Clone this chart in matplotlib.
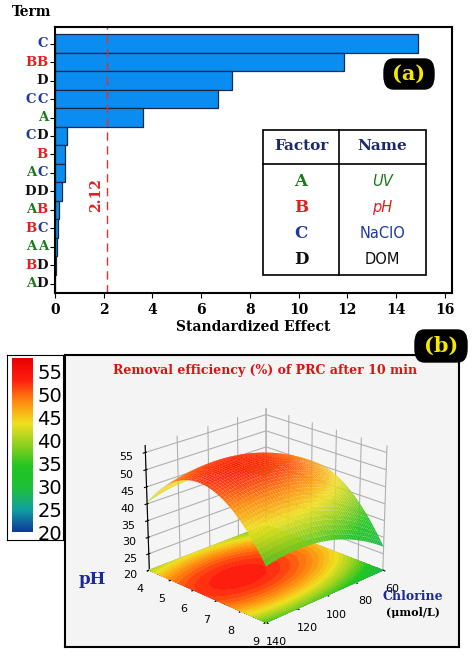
import numpy as np
import matplotlib
matplotlib.use("Agg")
import matplotlib.pyplot as plt
from matplotlib.colors import LinearSegmentedColormap
from matplotlib.patches import FancyBboxPatch, Rectangle

terms = ["C", "BB", "D", "CC", "A", "CD", "B", "AC", "DD", "AB", "BC", "AA", "BD", "AD"]
effects = [14.9, 11.85, 7.25, 6.7, 3.6, 0.48, 0.42, 0.42, 0.3, 0.17, 0.12, 0.07, 0.03, 0.02]
threshold = 2.12
factors = ["A", "B", "C", "D"]
names = ["UV", "pH", "NaClO", "DOM"]
xticks = [0, 2, 4, 6, 8, 10, 12, 14, 16]
# quadratic model coefficients for response surface (efficiency vs chlorine, pH)
cl_range = [60, 140]
ph_range = [4, 9]
coef = dict(b0=53.0, bcl=0.085, bph=-1.3, bcl2=-0.0028, bph2=-2.2, bclph=0.01)
cbar_ticks = [20, 25, 30, 35, 40, 45, 50, 55]

fcol = {"A": "#1b7a1b", "B": "#e02020", "C": "#1f3a9a", "D": "#111111"}
serif = "DejaVu Serif"

fig = plt.figure(figsize=(4.74, 6.55), dpi=100)
W, H = 474, 655
def fr(x0, y0, x1, y1):
    return [x0 / W, 1 - y1 / H, (x1 - x0) / W, (y1 - y0) / H]

ax = fig.add_axes(fr(55, 27, 452, 293))
n = len(terms)
ypos = np.arange(n)
ax.barh(ypos, effects, height=1.0, color="#0a8cf0", edgecolor="#1a2a40", linewidth=0.9)
ax.set_ylim(n - 0.5, -0.9)
ax.set_xlim(0, 16.3)
ax.set_xticks(xticks)
ax.set_xticklabels([str(t) for t in xticks], fontfamily=serif, fontweight="bold", fontsize=10)
ax.set_yticks(ypos)
ax.set_yticklabels([""] * n)
ax.axvline(threshold, color="#e03030", ls=(0, (6, 4)), lw=1)
ax.text(threshold - 0.45, 8.2, "2.12", rotation=90, color="#e02020", fontfamily=serif,
        fontweight="bold", fontsize=10, ha="center", va="center")
ax.set_xlabel("Standardized Effect", fontfamily=serif, fontweight="bold", fontsize=10, labelpad=2)
for s in ax.spines.values():
    s.set_linewidth(1.5)
for i, t in enumerate(terms):
    off = -5
    for ch in reversed(t):
        ax.annotate(ch, xy=(0, i), xycoords=("axes fraction", "data"), xytext=(off, 0),
                    textcoords="offset points", ha="right", va="center", color=fcol[ch],
                    fontfamily=serif, fontweight="bold", fontsize=9.5)
        off -= 8.5
fig.text(12 / W, 1 - 12 / H, "Term", fontfamily=serif, fontweight="bold", fontsize=10, va="center")

# (a) badge
fig.patches.append(FancyBboxPatch((384 / W, 1 - 89 / H), 50 / W, 30 / H, boxstyle="round,pad=0,rounding_size=0.02",
                                  transform=fig.transFigure, facecolor="black", edgecolor="black"))
fig.text(409 / W, 1 - 74 / H, "(a)", color="#f5e800", fontfamily=serif, fontweight="bold",
         fontsize=15, ha="center", va="center")

# factor table
tx0, tx1, tmid = 263 / W, 426 / W, 339 / W
ty0, ty1, tyh = 1 - 130 / H, 1 - 275 / H, 1 - 164 / H
fig.patches.append(Rectangle((tx0, ty1), tx1 - tx0, ty0 - ty1, transform=fig.transFigure,
                             facecolor="white", edgecolor="black", lw=1.2))
fig.lines.append(plt.Line2D([tmid, tmid], [ty1, ty0], transform=fig.transFigure, color="black", lw=1.2))
fig.lines.append(plt.Line2D([tx0, tx1], [tyh, tyh], transform=fig.transFigure, color="black", lw=1.2))
fig.text((tx0 + tmid) / 2, 1 - 146 / H, "Factor", color="#1a2a6a", fontfamily=serif, fontweight="bold", fontsize=11, ha="center", va="center")
fig.text((tmid + tx1) / 2, 1 - 146 / H, "Name", color="#1a2a6a", fontfamily=serif, fontweight="bold", fontsize=11, ha="center", va="center")
for k, (f, nm) in enumerate(zip(factors, names)):
    yy = 1 - (182 + k * 26) / H
    fig.text((tx0 + tmid) / 2, yy, f, color=fcol[f], fontfamily=serif, fontweight="bold", fontsize=12, ha="center", va="center")
    fig.text((tmid + tx1) / 2, yy, nm, color=fcol[f], fontsize=10.5, ha="center", va="center",
             style="italic" if nm in ("UV", "pH") else "normal")

# ---- panel (b)
frame = fig.add_axes(fr(65, 355, 459, 647))
frame.set_facecolor("#f4f4f4")
frame.set_xticks([]); frame.set_yticks([])
for s in frame.spines.values():
    s.set_linewidth(1.5)
frame.set_zorder(0)

cmap = LinearSegmentedColormap.from_list("rs", ["#1038a0", "#11a0a0", "#1fbf3a", "#22c522", "#8ed020",
                                                "#f0e020", "#ff8c10", "#ff2010", "#e80000"])
cl = np.linspace(cl_range[0], cl_range[1], 50)
ph = np.linspace(ph_range[0], ph_range[1], 50)
CL, PH = np.meshgrid(cl, ph)
c = coef
Z = (c["b0"] + c["bcl"] * (CL - 100) + c["bph"] * (PH - 6.5) + c["bcl2"] * (CL - 100) ** 2
     + c["bph2"] * (PH - 6.5) ** 2 + c["bclph"] * (CL - 100) * (PH - 6.5))

ax3 = fig.add_axes(fr(70, 380, 455, 645), projection="3d")
ax3.set_zorder(1)
ax3.patch.set_alpha(0)
ax3.plot_surface(CL, PH, Z, cmap=cmap, vmin=20, vmax=58, linewidth=0, antialiased=True, shade=True)
ax3.contourf(CL, PH, Z, zdir="z", offset=20, levels=30, cmap=cmap, vmin=20, vmax=58)
ax3.set_zlim(20, 57)
ax3.set_xlim(60, 140)
ax3.set_ylim(4, 9)
ax3.view_init(elev=22, azim=45)
ax3.set_xticks([60, 80, 100, 120, 140])
ax3.set_yticks([4, 5, 6, 7, 8, 9])
ax3.set_zticks([20, 25, 30, 35, 40, 45, 50, 55])
ax3.tick_params(labelsize=8, pad=0)
for a in (ax3.xaxis, ax3.yaxis, ax3.zaxis):
    a.set_pane_color((0.96, 0.96, 0.96, 1))
ax3.set_box_aspect((1, 1, 0.8))
fig.text(265 / W, 1 - 370 / H, "Removal efficiency (%) of PRC after 10 min", color="#e01010",
         fontfamily=serif, fontweight="bold", fontsize=9, ha="center", va="center", zorder=5)
fig.text(92 / W, 1 - 579 / H, "pH", color="#1a2a9a", fontfamily=serif, fontweight="bold", fontsize=12, ha="center", va="center", zorder=5)
fig.text(413 / W, 1 - 597 / H, "Chlorine", color="#1a2a9a", fontfamily=serif, fontweight="bold", fontsize=9, ha="center", va="center", zorder=5)
fig.text(413 / W, 1 - 612 / H, "(μmol/L)", color="black", fontfamily=serif, fontweight="bold", fontsize=8, ha="center", va="center", zorder=5)

# colorbar
cbg = fig.add_axes(fr(7, 355, 63, 540))
cbg.set_xticks([]); cbg.set_yticks([])
cbg.set_zorder(3)
cax = fig.add_axes(fr(12, 358, 33, 532))
cax.set_zorder(4)
grad = np.linspace(20, 58, 200).reshape(-1, 1)
cax.imshow(grad, aspect="auto", cmap=cmap, origin="lower", extent=[0, 1, 20, 58])
cax.set_xticks([])
cax.yaxis.tick_right()
cax.set_yticks(cbar_ticks)
cax.tick_params(axis="y", length=0, labelsize=14, pad=3)
for s in cax.spines.values():
    s.set_visible(False)

# (b) badge
fig.patches.append(FancyBboxPatch((415 / W, 1 - 362 / H), 52 / W, 32 / H, boxstyle="round,pad=0,rounding_size=0.02",
                                  transform=fig.transFigure, facecolor="black", edgecolor="black", zorder=7))
fig.text(441 / W, 1 - 346 / H, "(b)", color="#f5e800", fontfamily=serif, fontweight="bold",
         fontsize=15, ha="center", va="center", zorder=8)

fig.savefig("out.png", dpi=100)
